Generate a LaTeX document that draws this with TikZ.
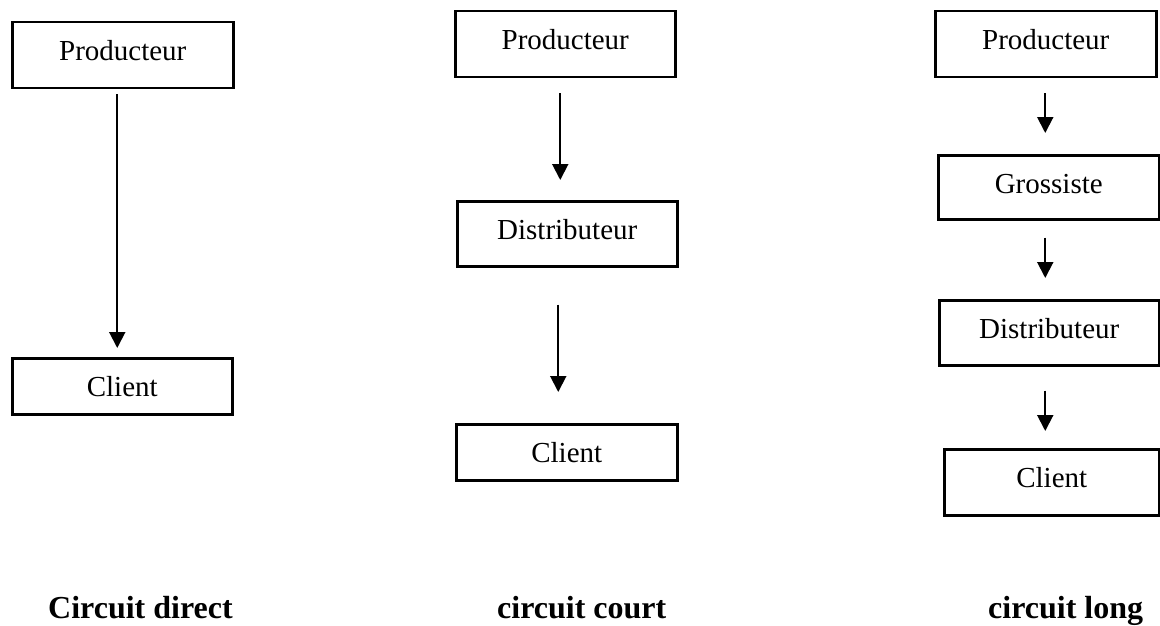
\documentclass[tikz,border=0pt]{standalone}
\usepackage{fontspec}
\setmainfont{Liberation Serif}
\usetikzlibrary{arrows.meta,calc}
\begin{document}
\begin{tikzpicture}[x=1pt,y=-1pt,
  box/.style={draw, line width=2.5pt, inner sep=0pt, anchor=north west,
    font=\fontsize{29}{34}\selectfont, text height=38pt},
  flow/.style={line width=2pt, -{Triangle[width=16pt,length=16pt]}},
  caption/.style={anchor=base west, inner sep=0pt,
    font=\fontsize{32}{38}\selectfont\bfseries}]
  \useasboundingbox (0,0) rectangle (1160,626);

  % circuit direct
  \node[box, minimum width=221pt, text depth=28pt] (lp) at (11,21) {Producteur};
  \node[box, minimum width=220pt, text depth=18pt] (lc) at (11,357) {Client};
  \draw[flow] ($(lp.south)+(-5.5,5)$) -- ($(lc.north)+(-5,-9)$);

  % circuit court
  \node[box, minimum width=220pt, text depth=28pt] (mp) at (454,10) {Producteur};
  \node[box, minimum width=220pt, text depth=27pt] (md) at (456,200) {Distributeur};
  \node[box, minimum width=221pt, text depth=18pt] (mc) at (455,423) {Client};
  \draw[flow] ($(mp.south)+(-5,15)$) -- ($(md.north)+(-7,-20)$);
  \draw[flow] ($(md.south)+(-9,37)$) -- ($(mc.north)+(-8.5,-31)$);

  % circuit long
  \node[box, minimum width=221pt, text depth=28pt] (rp) at (934,10) {Producteur};
  \node[box, minimum width=221pt, text depth=26pt] (rg) at (937,154) {Grossiste};
  \node[box, minimum width=220pt, text depth=27pt] (rd) at (938,299) {Distributeur};
  \node[box, minimum width=215pt, text depth=28pt] (rc) at (943,448) {Client};
  \draw[flow] ($(rp.south)+(-0.5,15)$) -- ($(rg.north)+(-3.5,-21)$);
  \draw[flow] ($(rg.south)+(-3.5,17)$) -- ($(rd.north)+(-4,-21)$);
  \draw[flow] ($(rd.south)+(-4,24)$) -- ($(rc.north)+(-6.5,-17)$);

  % captions
  \node[caption] (cd) at (48,618) {Circuit direct};
  \node[caption] (cc) at (497,618) {circuit court};
  \node[caption] (cl) at (988,618) {circuit long};
\end{tikzpicture}
\end{document}
